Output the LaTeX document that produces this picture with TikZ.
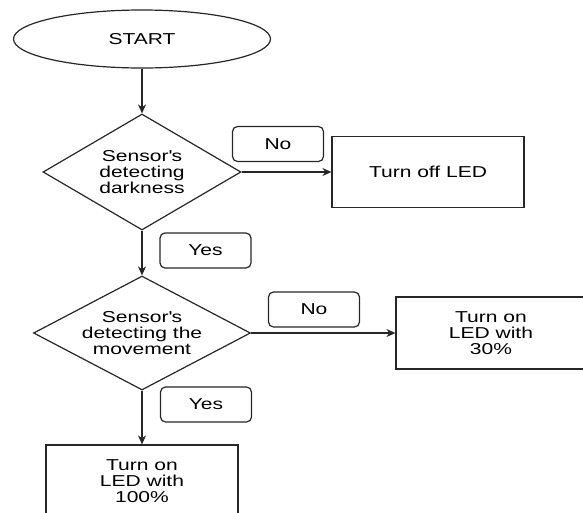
\documentclass[tikz,border=0pt]{standalone}
\usepackage{fontspec}
\setmainfont{Liberation Sans}[FakeStretch=1.33]
\usetikzlibrary{shapes.geometric,arrows.meta}

\begin{document}
\begin{tikzpicture}[x=1pt,y=-1pt]
\tikzset{trait/.style={draw=black!85, line width=1.2pt},
fleche/.style={trait, -{Stealth[length=9pt,width=8pt]}},
debut/.style={trait, ellipse, inner sep=0pt, minimum width=257pt, minimum height=58pt},
losange/.style={trait, diamond, shape aspect=1.7, inner sep=0pt, align=center},
boite/.style={trait, rectangle, inner sep=0pt, minimum height=72pt, align=center},
etiq/.style={trait, rounded corners=5pt, inner sep=0pt, minimum width=91pt, minimum height=35pt}}
\fontsize{15.8}{16}\selectfont
\clip (0, 0) rectangle (583, 512);
\useasboundingbox (0, 0) rectangle (583, 512);
\node[debut] (S) at (142, 39) {START};
\node[losange, minimum width=198pt, minimum height=116pt] (D1) at (142, 172) {Sensor\textquotesingle s\\detecting\\darkness};
\node[losange, minimum width=217pt, minimum height=104pt] (D2) at (142, 333) {Sensor\textquotesingle s\\detecting the\\movement};
\node[boite, minimum width=192pt, minimum height=71pt] (B1) at (428, 172) {Turn off LED};
\node[boite, minimum width=190pt] (B2) at (491, 333) {Turn on\\LED with\\30\%};
\node[boite, minimum width=192pt] (B3) at (142, 481) {Turn on\\LED with\\100\%};
\node[etiq] (N1) at (278, 144) {No};
\node[etiq] (Y1) at (205.5, 250.5) {Yes};
\node[etiq] (N2) at (314, 309.5) {No};
\node[etiq] (Y2) at (206, 404.5) {Yes};
\draw[fleche] (S) -- (D1);
\draw[fleche] (D1.east) -- (B1.west);
\draw[fleche] (D1) -- (D2);
\draw[fleche] (D2.east) -- (B2.west);
\draw[fleche] (D2) -- (B3);
\end{tikzpicture}
\end{document}
